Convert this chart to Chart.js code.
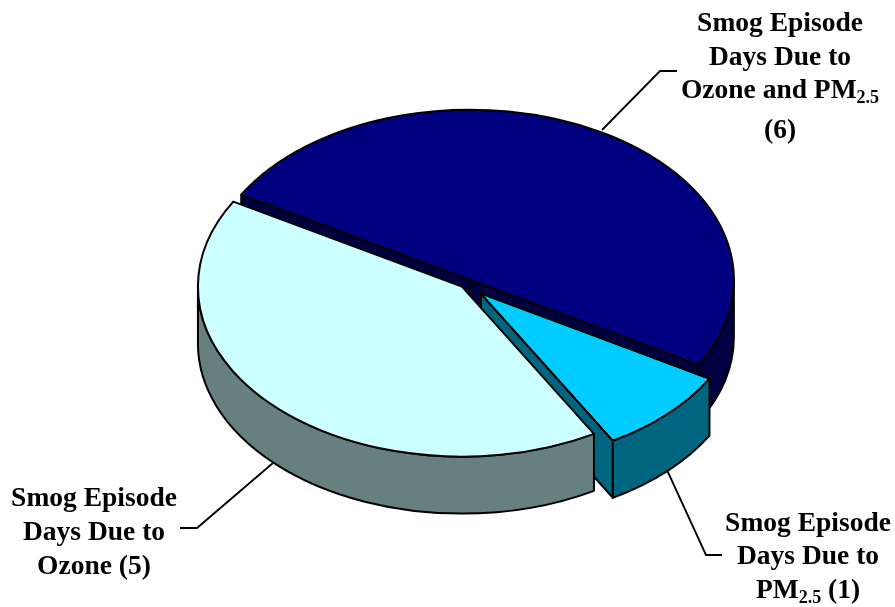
<!DOCTYPE html>
<html><head><meta charset="utf-8">
<style>html,body{margin:0;padding:0;background:#fff}canvas{display:block}</style>
<script src="https://cdn.jsdelivr.net/npm/chart.js@4"></script>
</head><body>
<canvas id="c" width="895" height="607"></canvas>
<script>
const categories = ["Smog Episode Days Due to Ozone and PM2.5", "Smog Episode Days Due to PM2.5", "Smog Episode Days Due to Ozone"];
const episodeDays = [6, 1, 5];
const topColors = ["#000080", "#00CCFF", "#CCFFFF"];
const wallColors = ["#000040", "#006680", "#668080"];
const explodeOffsets = [31, 84, 23];

const labelLines = [
  { cx: 780, lines: [[["Smog Episode"]], [["Days Due to"]], [["Ozone and PM"], ["2.5", 1]], [["(6)"]]], base: [31, 65, 98, 138] },
  { cx: 94, lines: [[["Smog Episode"]], [["Days Due to"]], [["Ozone (5)"]]], base: [506, 540, 574] },
  { cx: 808, lines: [[["Smog Episode"]], [["Days Due to"]], [["PM"], ["2.5", 1], [" (1)"]]], base: [531, 564, 598] }
];
const leaderLines = [
  [[602, 130], [660, 71], [677, 71]],
  [[273, 463], [197, 528], [180, 528]],
  [[667, 470], [706, 555], [722, 555]]
];

const RADIUS = 264, TILT = 170 / 264, DEPTH = 57, LINE = 2;
const MAIN_FONT = 'bold 27.5px "Liberation Serif"', SUB_FONT = 'bold 18px "Liberation Serif"';

// An exploded arc is shifted by off and widened by off * fix.
function explode(el) {
  const off = (el.options.offset || 0) / 4;
  const fix = 1 - Math.sin(Math.min(Math.PI, el.endAngle - el.startAngle));
  return { shift: off, grow: off * fix };
}
function geom(el) {
  const mid = (el.startAngle + el.endAngle) / 2, e = explode(el);
  return { x: el.x + Math.cos(mid) * e.shift, y: el.y + Math.sin(mid) * e.shift * TILT,
           r: RADIUS, a0: el.startAngle, a1: el.endAngle };
}
function rim(g, a) { return [g.x + Math.cos(a) * g.r, g.y + Math.sin(a) * g.r * TILT]; }

function paint(ctx, fill, build) {
  ctx.beginPath(); build(); ctx.closePath();
  if (fill) { ctx.fillStyle = fill; ctx.fill(); }
  ctx.strokeStyle = "#000"; ctx.lineWidth = LINE; ctx.lineJoin = "round"; ctx.stroke();
}
function cutFace(ctx, g, a, fill) {
  const p = rim(g, a);
  paint(ctx, fill, () => {
    ctx.moveTo(g.x, g.y); ctx.lineTo(p[0], p[1]);
    ctx.lineTo(p[0], p[1] + DEPTH); ctx.lineTo(g.x, g.y + DEPTH);
  });
}
function drawWalls(ctx, g, fill) {
  if (Math.cos(g.a0) < 0) cutFace(ctx, g, g.a0, fill);
  if (Math.cos(g.a1) > 0) cutFace(ctx, g, g.a1, fill);
  const from = Math.max(g.a0, 0), to = Math.min(g.a1, Math.PI);
  if (to > from) {
    paint(ctx, fill, () => {
      ctx.ellipse(g.x, g.y, g.r, g.r * TILT, 0, from, to);
      ctx.ellipse(g.x, g.y + DEPTH, g.r, g.r * TILT, 0, to, from, true);
    });
  }
}
const pie3d = {
  id: "pie3d",
  beforeDatasetsDraw(chart) {
    const ctx = chart.ctx, arcs = chart.getDatasetMeta(0).data;
    arcs.forEach(el => { el.outerRadius = RADIUS - explode(el).grow; });
    arcs.forEach((el, i) => drawWalls(ctx, geom(el), wallColors[i]));
    const cy = arcs[0].y;
    ctx.save();
    ctx.translate(0, cy); ctx.scale(1, TILT); ctx.translate(0, -cy);
  },
  afterDatasetsDraw(chart) {
    const ctx = chart.ctx, arcs = chart.getDatasetMeta(0).data;
    ctx.restore();
    arcs.forEach(el => {
      const g = geom(el);
      paint(ctx, null, () => {
        ctx.moveTo(g.x, g.y);
        ctx.ellipse(g.x, g.y, g.r, g.r * TILT, 0, g.a0, g.a1);
      });
    });
    ctx.strokeStyle = "#000"; ctx.lineWidth = 1.8; ctx.lineJoin = "miter";
    leaderLines.forEach(pts => {
      ctx.beginPath();
      pts.forEach((p, i) => i ? ctx.lineTo(p[0], p[1]) : ctx.moveTo(p[0], p[1]));
      ctx.stroke();
    });
    ctx.fillStyle = "#000"; ctx.textBaseline = "alphabetic"; ctx.textAlign = "left";
    labelLines.forEach(lab => lab.lines.forEach((segs, li) => {
      let w = 0;
      segs.forEach(s => { ctx.font = s[1] ? SUB_FONT : MAIN_FONT; w += ctx.measureText(s[0]).width; });
      let x = lab.cx - w / 2;
      segs.forEach(s => {
        ctx.font = s[1] ? SUB_FONT : MAIN_FONT;
        ctx.fillText(s[0], x, lab.base[li] + (s[1] ? 5 : 0));
        x += ctx.measureText(s[0]).width;
      });
    }));
  }
};

new Chart(document.getElementById("c"), {
  type: "pie",
  data: { labels: categories, datasets: [{
    data: episodeDays, backgroundColor: topColors, borderWidth: 0,
    offset: explodeOffsets, clip: false
  }]},
  options: {
    responsive: false, animation: false, rotation: -60, radius: RADIUS,
    layout: { padding: { left: 37, right: 0, top: 0, bottom: 39 } },
    events: [],
    plugins: { legend: { display: false }, tooltip: { enabled: false }, title: { display: false } }
  },
  plugins: [pie3d]
});
</script>
</body></html>
